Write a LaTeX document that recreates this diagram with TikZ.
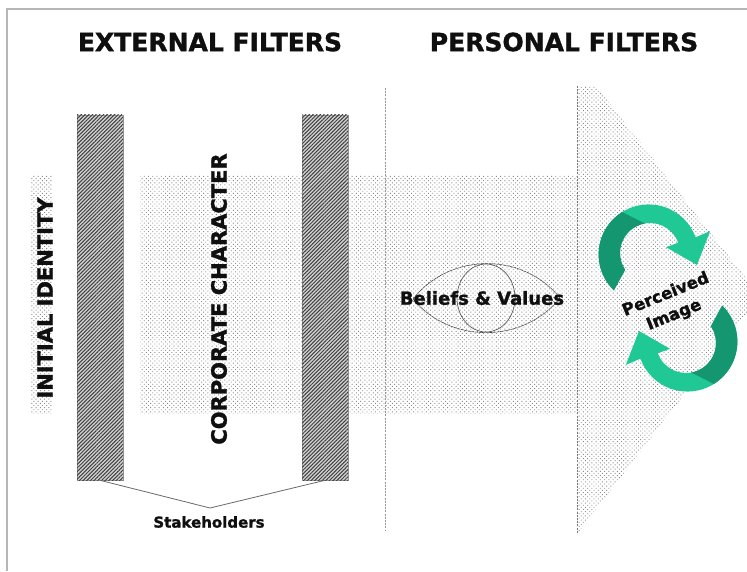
\documentclass[tikz,border=0pt]{standalone}
\usepackage{fontspec}
\setsansfont{DejaVu Sans}[BoldFeatures={FakeBold=1.3}]
\usepackage{tikz}
\usetikzlibrary{patterns, patterns.meta, shapes.geometric, positioning}
\definecolor{mygreen}{RGB}{32,200,150}
\definecolor{mydarkgreen}{RGB}{20,150,112}
\definecolor{mygrey}{RGB}{150,150,150}
\definecolor{myink}{RGB}{15,15,15}
\tikzset{
  hdrlabel/.style={font=\sffamily\bfseries\fontsize{25}{28}\selectfont,
    text=myink, inner sep=0pt},
  sidelabel/.style={font=\sffamily\bfseries\fontsize{21}{24}\selectfont,
    text=myink, rotate=90, inner sep=0pt},
  smalllabel/.style={font=\sffamily\bfseries\fontsize{15}{18}\selectfont,
    text=myink, inner sep=0pt},
  hatchbar/.style={rectangle, draw=mygrey, line width=0.6pt, fill=black!18,
    minimum width=46pt, minimum height=365pt, inner sep=0pt,
    postaction={pattern={Lines[angle=45, distance=2.6pt, line width=1pt]},
      pattern color=black!75}},
  stipple/.style={pattern={Dots[distance=3pt, radius=0.65pt, angle=45]},
    pattern color=black!45},
  thinline/.style={draw=mygrey!70!black, line width=0.8pt},
  divider/.style={draw=mygrey, line width=0.8pt, dash pattern=on 2pt off 1.2pt}
}

\begin{document}
\begin{tikzpicture}[x=1pt, y=1pt]
  \useasboundingbox (0,0) rectangle (747,571);
  \draw[mygrey!70, line width=1.2pt] (7,0) -- (7,562) -- (747,562);

  % dotted band and arrow head
  \begin{scope}
    \clip (8,0) rectangle (747,561);
    \fill[stipple] (31,158) rectangle (52,395);
    \fill[stipple] (140,158) rectangle (577,395);
    \fill[stipple] (577,485) -- (596,485) -- (760,275) -- (577,37) -- cycle;
  \end{scope}
  \draw[divider] (385,483) -- (385,41);
  \draw[divider, draw=mygrey!80!black] (577,485) -- (577,37);

  \node[hdrlabel] (extf) at (210,529) {EXTERNAL FILTERS};
  \node[hdrlabel] (persf) at (564,529) {PERSONAL FILTERS};

  \node[hatchbar] (lbar) at (100,273.5) {};
  \node[hatchbar] (rbar) at (325,273.5) {};
  \node[sidelabel] (initid) at (45,273) {INITIAL IDENTITY};
  \node[sidelabel] (corpchar) at (219,272) {CORPORATE CHARACTER};

  \node[smalllabel] (stake) at (209,49) {Stakeholders};
  \coordinate (apex) at (210,63);
  \draw[thinline] (lbar.south) -- (apex) -- (rbar.south);

  % eye
  \coordinate (lcorner) at (413,272);
  \coordinate (rcorner) at (560,273);
  \node[ellipse, draw=myink!75, line width=0.6pt, minimum width=58pt,
    minimum height=68pt, inner sep=0pt] (iris) at (486,273) {};
  \draw[myink!75, line width=0.6pt, dash pattern=on 3pt off 0.6pt]
    (lcorner) .. controls (450,319) and (523,319) .. (rcorner)
    (lcorner) .. controls (450,227) and (523,227) .. (rcorner);
  \node[font=\sffamily\bfseries\fontsize{18}{20}\selectfont, text=myink,
    inner sep=0pt] (beliefs) at (482,273) {Beliefs \& Values};

  % twin cycle arrows
  \foreach \r in {0,180} {
    \begin{scope}[rotate around={\r:(668,273)}, shift={(650,318)}]
      \fill[mygreen] (226:52) arc[start angle=226, end angle=20, radius=50]
        -- (20:64) -- (47,-12) -- (20:17) -- (20:30)
        arc[start angle=20, end angle=214, radius=30] -- cycle;
      \fill[mydarkgreen] (226:52) arc[start angle=226, end angle=122, radius=50]
        -- (100:30) arc[start angle=100, end angle=214, radius=30] -- cycle;
    \end{scope}
  }
  \node[font=\sffamily\bfseries\fontsize{16.5}{22}\selectfont, text=myink,
    align=center, rotate=22, inner sep=0pt] (perc) at (670,266) {Perceived\\Image};
\end{tikzpicture}
\end{document}
